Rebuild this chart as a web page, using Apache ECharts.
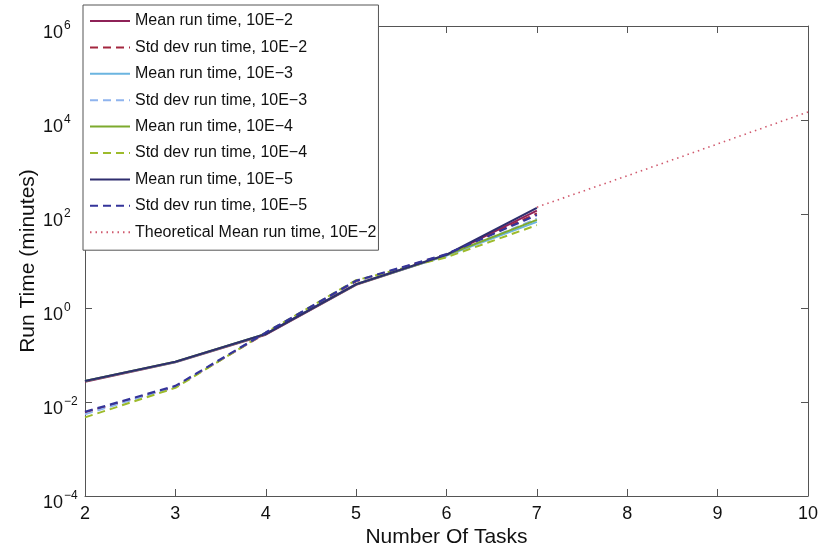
<!DOCTYPE html>
<html>
<head>
<meta charset="utf-8">
<title>Run time vs number of tasks</title>
<script src="https://cdn.jsdelivr.net/npm/echarts@6/dist/echarts.min.js"></script>
<style>
  html, body { margin: 0; padding: 0; background: #fff; }
  #chart { width: 823px; height: 550px; }
</style>
</head>
<body>
<div id="chart"></div>
<script>
// Number of tasks (x) for the measured runs
const tasks = [2, 3, 4, 5, 6, 7];

// Measured mean / standard deviation of run time (minutes) per tolerance
const meanE2 = [0.027, 0.070, 0.27, 3.1, 13.2, 118];
const stdE2  = [0.0060, 0.021, 0.29, 3.7, 13.8, 103];
const meanE3 = [0.028, 0.071, 0.28, 3.2, 13.0, 68];
const stdE3  = [0.0055, 0.021, 0.30, 3.8, 12.5, 80];
const meanE4 = [0.028, 0.072, 0.28, 3.2, 13.4, 75];
const stdE4  = [0.0047, 0.020, 0.30, 3.9, 12.0, 58];
const meanE5 = [0.028, 0.072, 0.28, 3.2, 13.6, 135];
const stdE5  = [0.0062, 0.022, 0.30, 3.8, 14.0, 95];

// Extrapolated mean run time for tolerance 10E-2
const theoryTasks = [7, 8, 9, 10];
const theoryE2 = [140, 650, 3100, 14800];

// Axis ranges (y ticks every two decades)
const xTicks = [2, 3, 4, 5, 6, 7, 8, 9, 10];
const yMin = 1e-4, yMax = 1e6, yDecadeStep = 2;

const FONT = 'Liberation Sans, Arial, Helvetica, sans-serif';
const pairs = (xs, ys) => xs.map((x, i) => [x, ys[i]]);

function lineSeries(name, xs, ys, color, type, width) {
  return {
    name: name,
    type: 'line',
    data: pairs(xs, ys),
    symbol: 'none',
    smooth: false,
    lineStyle: { color: color, width: width, type: type },
    itemStyle: { color: color },
    emphasis: { disabled: true },
    animation: false
  };
}

const dash = [8, 5];
const series = [
  lineSeries('Mean run time, 10E\u22122', tasks, meanE2, '#8e2157', 'solid', 2),
  lineSeries('Std dev run time, 10E\u22122', tasks, stdE2, '#a3263f', dash, 2),
  lineSeries('Mean run time, 10E\u22123', tasks, meanE3, '#6bb5e0', 'solid', 2),
  lineSeries('Std dev run time, 10E\u22123', tasks, stdE3, '#8fb4ee', dash, 2),
  lineSeries('Mean run time, 10E\u22124', tasks, meanE4, '#7daa2e', 'solid', 2),
  lineSeries('Std dev run time, 10E\u22124', tasks, stdE4, '#9dbb2c', dash, 2),
  lineSeries('Mean run time, 10E\u22125', tasks, meanE5, '#2e2d6e', 'solid', 2.2),
  lineSeries('Std dev run time, 10E\u22125', tasks, stdE5, '#34349a', dash, 2.2),
  lineSeries('Theoretical Mean run time, 10E\u22122', theoryTasks, theoryE2, '#d05a6e', [1.5, 4], 1.6)
];

const supLabel = function (v) {
  const e = Math.round(Math.log10(v));
  return '{b|10}{s|' + (e < 0 ? '\u2212' + (-e) : e) + '}';
};

const axisColor = '#555';
const tickStyle = { show: true, inside: true, length: 7, lineStyle: { color: axisColor } };
const lineAxis = { show: true, lineStyle: { color: axisColor, width: 1 } };

const chart = echarts.init(document.getElementById('chart'), null, { renderer: 'canvas' });
chart.setOption({
  backgroundColor: '#fff',
  animation: false,
  textStyle: { fontFamily: FONT },
  grid: { left: 85, right: 15, top: 26, bottom: 54, show: false, containLabel: false, outerBoundsMode: 'none' },
  legend: {
    orient: 'vertical',
    left: 83,
    top: 5,
    padding: [7, 2, 9, 6],
    itemWidth: 40,
    itemHeight: 10,
    itemGap: 8.4,
    backgroundColor: '#fff',
    borderColor: '#555',
    borderWidth: 1,
    itemStyle: { opacity: 0 },
    textStyle: { fontSize: 16, color: '#111', fontFamily: FONT, lineHeight: 18 },
    selectedMode: false,
    data: series.map(s => s.name)
  },
  xAxis: [
    {
      type: 'value',
      min: xTicks[0],
      max: xTicks[xTicks.length - 1],
      interval: 1,
      name: 'Number Of Tasks',
      nameLocation: 'middle',
      nameGap: 31,
      nameMoveOverlap: false,
      nameTextStyle: { fontSize: 21, color: '#111', fontFamily: FONT },
      axisLine: lineAxis,
      axisTick: tickStyle,
      axisLabel: { fontSize: 18, color: '#111', margin: 9, fontFamily: FONT },
      splitLine: { show: false }
    },
    {
      type: 'value',
      position: 'top',
      min: xTicks[0],
      max: xTicks[xTicks.length - 1],
      interval: 1,
      axisLine: lineAxis,
      axisTick: tickStyle,
      axisLabel: { show: false },
      splitLine: { show: false }
    }
  ],
  yAxis: [
    {
      type: 'log',
      logBase: 10,
      min: yMin,
      max: yMax,
      interval: yDecadeStep,
      name: 'Run Time (minutes)',
      nameLocation: 'middle',
      nameGap: 46,
      nameMoveOverlap: false,
      nameTextStyle: { fontSize: 21, color: '#111', fontFamily: FONT },
      axisLine: lineAxis,
      axisTick: tickStyle,
      minorTick: { show: false },
      axisLabel: {
        margin: 42,
        align: 'left',
        padding: [10, 0, 0, 0],
        formatter: supLabel,
        rich: {
          b: { fontSize: 18, color: '#111', fontFamily: FONT, verticalAlign: 'bottom', lineHeight: 22 },
          s: { fontSize: 12, color: '#111', fontFamily: FONT, verticalAlign: 'top', lineHeight: 22, padding: [0, 0, 0, 1] }
        }
      },
      splitLine: { show: false }
    },
    {
      type: 'log',
      logBase: 10,
      min: yMin,
      max: yMax,
      interval: yDecadeStep,
      position: 'right',
      axisLine: lineAxis,
      axisTick: tickStyle,
      axisLabel: { show: false },
      splitLine: { show: false }
    }
  ],
  series: series
});
</script>
</body>
</html>
